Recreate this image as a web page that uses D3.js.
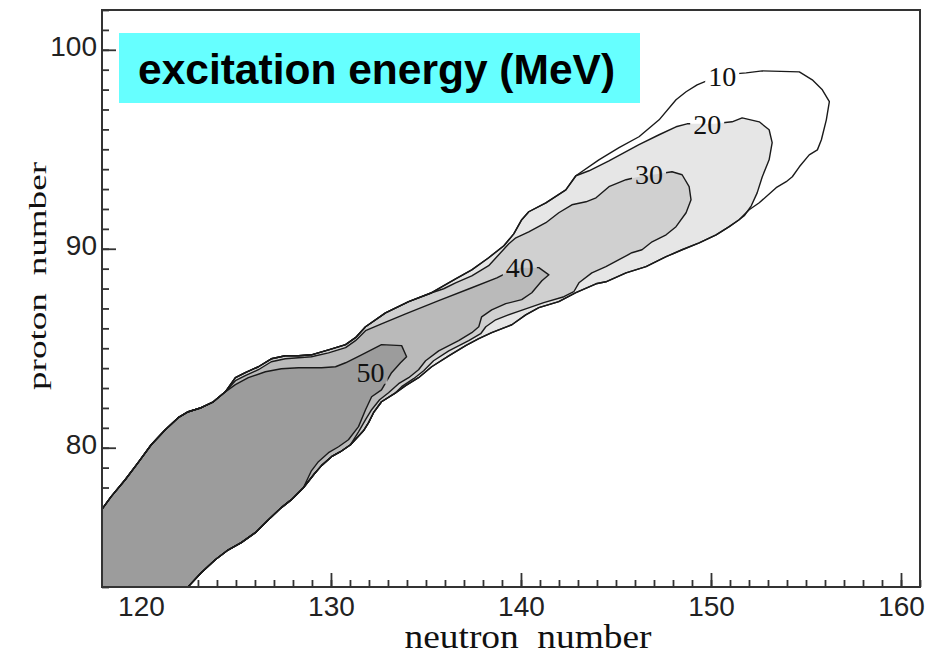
<!DOCTYPE html>
<html><head><meta charset="utf-8">
<script src="https://cdn.jsdelivr.net/npm/d3@7"></script>
<style>body{margin:0;background:#fff}</style>
</head><body>
<svg id="chart" width="936" height="656" xmlns="http://www.w3.org/2000/svg"></svg>
<script>
// ---------- data (neutron number N, proton number Z) ----------
const xMajorTicks = [120, 130, 140, 150, 160];
const yMajorTicks = [80, 90, 100];
const levels = [10, 20, 30, 40, 50];
const levelLabelPos = [[150.59, 98.64], [149.80, 96.23], [146.74, 93.72], [139.94, 89.05], [132.08, 83.77]];

const cornerLL = [[117.48, 72.36]];
const leftUpperEdge = [[117.48,76.28],[117.85,76.78],[118.43,77.54],[119.17,78.39],[119.85,79.25],[120.54,80.15],[121.28,80.90],[121.96,81.51],[122.49,81.81],[123.17,82.01],[123.81,82.31],[124.44,82.81]];
const outerUpperEdge = [[124.97,83.52],[125.49,83.77],[126.18,84.07],[126.86,84.47],[127.60,84.62],[128.29,84.62],[128.97,84.67],[129.87,84.92],[130.77,85.18],[131.29,85.53],[131.82,86.08],[132.87,86.78],[134.09,87.34],[135.30,87.79]];
const outerUpperEdge2 = [[136.56,88.49],[137.41,88.94],[138.30,89.55],[139.10,90.15],[139.62,90.75],[140.04,91.46],[140.41,91.86],[141.31,92.31],[142.36,92.96],[142.89,93.67]];
const tenUpper = [[144.10,94.47],[145.16,95.08],[146.21,95.63],[147.27,96.48],[148.16,97.49],[148.69,97.89],[149.27,98.24],[149.90,98.49],[150.59,98.69],[151.22,98.79],[151.85,98.84],[152.70,98.94],[154.65,98.89],[155.33,98.49],[155.86,97.99],[156.23,97.39],[156.07,96.48],[155.81,95.48],[155.60,94.97],[155.17,94.72],[154.65,94.12],[154.28,93.62],[153.96,93.37],[153.43,93.07],[152.54,92.31],[152.01,91.96],[151.48,91.46],[150.96,91.11]];
const twentyUpper = [[143.58,93.92],[144.63,94.42],[146.21,95.23],[147.27,95.73],[148.16,96.13],[148.74,96.28],[149.38,96.28],[150.16,96.28],[151.11,96.38],[151.64,96.58],[152.54,96.38],[153.06,95.98],[153.22,95.33],[153.06,94.47],[152.70,93.62],[152.43,92.81],[152.12,92.16],[151.75,91.66],[151.48,91.46],[150.96,91.11]];
const thirtyPart = [[135.93,87.99],[136.56,88.29],[137.41,88.64],[138.30,89.15],[138.83,89.70],[139.36,90.25],[139.73,90.55],[140.41,90.85],[141.31,91.31],[141.99,91.81],[142.68,92.21],[143.42,92.36],[143.95,92.56],[144.63,93.12],[145.53,93.47],[146.21,93.62],[147.27,93.77],[147.95,93.87],[148.48,93.72],[148.85,93.12],[148.95,92.46],[148.69,91.81],[148.16,91.11],[147.64,90.70],[146.90,90.35],[146.37,89.95],[145.84,89.80],[145.16,89.45],[144.47,89.10],[143.73,88.79],[143.05,88.29],[142.78,87.84],[142.26,87.59],[141.20,87.29],[140.25,86.98],[139.20,86.63],[138.67,86.43],[138.15,86.08],[137.88,85.73],[137.25,85.38],[136.20,84.87],[135.40,84.37],[134.88,83.87],[134.35,83.47],[133.72,83.07]];
const fortyPart = [[124.97,83.37],[125.49,83.62],[126.18,83.92],[126.86,84.32],[127.60,84.47],[128.29,84.52],[128.97,84.57],[129.87,84.77],[130.77,85.03],[131.29,85.38],[131.82,85.88],[132.66,86.23],[133.93,86.73],[135.67,87.39],[137.41,88.04],[138.73,88.54],[139.36,88.84],[139.99,89.05],[140.94,89.05],[141.47,88.69],[141.10,88.39],[140.57,87.79],[140.04,87.44],[139.20,87.24],[138.46,86.93],[137.93,86.58],[137.78,86.08],[137.41,85.78],[136.72,85.38],[135.67,84.87],[134.98,84.37],[134.61,83.92],[134.09,83.52],[133.56,83.22],[133.03,82.76],[132.56,82.41],[132.14,81.91],[131.82,81.41],[131.45,80.80]];
const fiftyPart = [[124.97,83.17],[125.65,83.52],[126.55,83.82],[127.39,83.97],[128.29,84.02],[129.50,84.02],[130.24,84.07],[130.77,84.27],[131.61,84.67],[132.66,85.18],[133.72,85.13],[133.98,84.57],[133.66,84.27],[133.19,83.77],[132.66,82.91],[132.14,82.56],[131.82,81.91],[131.45,81.06],[130.92,80.40],[130.40,80.05],[129.87,79.75],[129.34,79.30],[128.97,78.84]];
const outerLower1 = [[150.27,90.70],[149.38,90.30],[148.48,89.95],[147.64,89.60],[146.58,89.10],[145.53,88.79],[144.47,88.34],[143.95,88.24],[142.89,87.79],[141.99,87.34],[140.94,87.04],[140.25,86.68],[139.52,86.18],[138.46,85.78],[137.78,85.48],[137.09,85.13],[136.20,84.62],[135.30,84.07],[134.61,83.52],[133.93,83.12]];
const outerLower2 = [[133.40,82.76],[132.66,82.31],[132.24,81.76],[131.98,81.26],[131.71,80.85]];
const outerLower3 = [[131.03,80.15],[130.50,79.80],[130.03,79.55],[129.50,79.10],[129.13,78.69]];
const outerLower4 = [[128.55,77.99]];
const lowerLeftEdge = [[127.92,77.39],[127.39,76.99],[126.71,76.38],[126.02,75.73],[125.28,75.23],[124.60,74.87],[123.91,74.37],[123.17,73.72],[122.49,73.02],[121.96,72.36]];

// contour rings built from the shared edges
const rings = [
  [].concat(cornerLL, leftUpperEdge, outerUpperEdge, outerUpperEdge2, tenUpper, outerLower1, outerLower2, outerLower3, outerLower4, lowerLeftEdge),
  [].concat(cornerLL, leftUpperEdge, outerUpperEdge, outerUpperEdge2, twentyUpper, outerLower1, outerLower2, outerLower3, outerLower4, lowerLeftEdge),
  [].concat(cornerLL, leftUpperEdge, outerUpperEdge, thirtyPart, outerLower2, outerLower3, outerLower4, lowerLeftEdge),
  [].concat(cornerLL, leftUpperEdge, fortyPart, outerLower3, outerLower4, lowerLeftEdge),
  [].concat(cornerLL, leftUpperEdge, fiftyPart, outerLower4, lowerLeftEdge)
];
const fillColors = ['#ffffff', '#e6e6e6', '#d0d0d0', '#bababa', '#9c9c9c'];

// ---------- layout ----------
const L = 102, R = 920, T = 10, B = 587;
const x = d3.scaleLinear().domain([117.95, 161]).range([L, R]);
const y = d3.scaleLinear().domain([73, 102]).range([B, T]);
const svg = d3.select('#chart');
const defs = svg.append('defs');
defs.append('clipPath').attr('id', 'plotclip').append('rect')
  .attr('x', L).attr('y', T).attr('width', R - L).attr('height', B - T);
const mask = defs.append('mask').attr('id', 'lblmask').attr('maskUnits', 'userSpaceOnUse')
  .attr('x', 0).attr('y', 0).attr('width', 936).attr('height', 656);
mask.append('rect').attr('x', 0).attr('y', 0).attr('width', 936).attr('height', 656).attr('fill', '#fff');

const tickFont = 'Liberation Sans, Arial, Helvetica, sans-serif';
const serif = 'Liberation Serif, Times New Roman, Times, serif';

function styleAxis(g) {
  g.select('.domain').remove();
  g.attr('font-family', tickFont).attr('font-size', 28).attr('color', '#222');
  g.selectAll('.tick line').attr('stroke', '#333').attr('stroke-width', 1.8);
}
// minor ticks
svg.append('g').attr('transform', `translate(0,${B})`)
  .call(d3.axisBottom(x).tickValues(d3.range(118, 162)).tickSize(-7).tickFormat(''))
  .call(styleAxis);
svg.append('g').attr('transform', `translate(${L},0)`)
  .call(d3.axisLeft(y).tickValues(d3.range(73, 103)).tickSize(-7).tickFormat(''))
  .call(styleAxis);
// major ticks + labels
svg.append('g').attr('transform', `translate(0,${B})`)
  .call(d3.axisBottom(x).tickValues(xMajorTicks).tickSize(-14).tickPadding(9).tickFormat(d3.format('d')))
  .call(styleAxis);
svg.append('g').attr('transform', `translate(${L},0)`)
  .call(d3.axisLeft(y).tickValues(yMajorTicks).tickSize(-14).tickPadding(5).tickFormat(d3.format('d')))
  .call(styleAxis)
  .call(g => g.selectAll('text').attr('dy', '0.22em'));

// contours
const line = d3.line().x(d => x(d[0])).y(d => y(d[1]));
const plot = svg.append('g').attr('clip-path', 'url(#plotclip)');
plot.selectAll('path.fill').data(rings).join('path').attr('class', 'fill')
  .attr('d', d => line(d) + 'Z').attr('fill', (d, i) => fillColors[i]).attr('stroke', 'none');
const strokes = plot.append('g').attr('mask', 'url(#lblmask)');
strokes.selectAll('path').data(rings).join('path')
  .attr('d', d => line(d) + 'Z').attr('fill', 'none')
  .attr('stroke', '#1a1a1a').attr('stroke-width', 1.4).attr('stroke-linejoin', 'round');

// contour labels
const lbl = svg.append('g').attr('font-family', serif).attr('font-size', 28).attr('fill', '#111')
  .attr('text-anchor', 'middle');
levels.forEach((lv, i) => {
  const cx = x(levelLabelPos[i][0]), cy = y(levelLabelPos[i][1]);
  const t = lbl.append('text').attr('x', cx).attr('y', cy).attr('dy', '0.34em').text(lv);
  const w = t.node().getComputedTextLength();
  mask.append('rect').attr('x', cx - w / 2 - 3).attr('y', cy - 11).attr('width', w + 6).attr('height', 22).attr('fill', '#000');
});

// frame
svg.append('rect').attr('x', L).attr('y', T).attr('width', R - L).attr('height', B - T)
  .attr('fill', 'none').attr('stroke', '#333').attr('stroke-width', 2);

// title box
svg.append('rect').attr('x', 119).attr('y', 33).attr('width', 521).attr('height', 70).attr('fill', '#66ffff');
svg.append('text').attr('x', 138).attr('y', 84).attr('font-family', tickFont).attr('font-weight', 'bold')
  .attr('font-size', 42.5).attr('fill', '#000').text('excitation energy (MeV)');

// axis titles
svg.append('text').attr('x', 528).attr('y', 648).attr('text-anchor', 'middle')
  .attr('font-family', serif).attr('font-size', 33).attr('fill', '#111')
  .style('word-spacing', '8px')
  .attr('textLength', 247).attr('lengthAdjust', 'spacingAndGlyphs').text('neutron number');
svg.append('g').attr('transform', 'translate(46,276) rotate(-90) scale(1,0.75)')
  .append('text').attr('x', 0).attr('y', 0).attr('text-anchor', 'middle')
  .attr('font-family', serif).attr('font-size', 35).attr('fill', '#111')
  .style('word-spacing', '8px')
  .attr('textLength', 228).attr('lengthAdjust', 'spacingAndGlyphs').text('proton number');
</script>
</body></html>
